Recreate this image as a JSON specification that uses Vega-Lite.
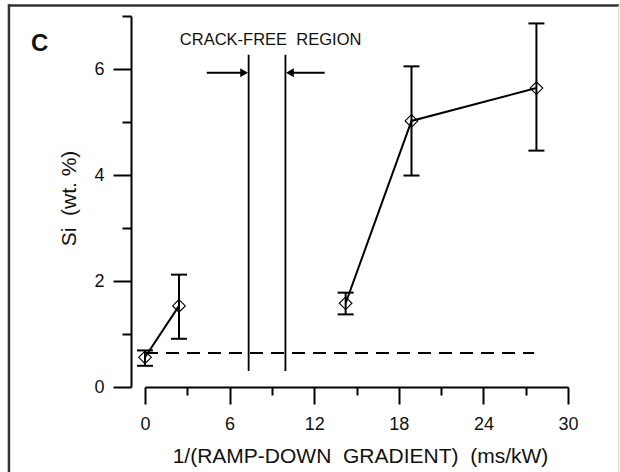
{
  "$schema": "https://vega.github.io/schema/vega-lite/v6.json",
  "width": 423,
  "height": 371,
  "autosize": {"type": "none"},
  "padding": {"left": 145, "top": 16, "right": 52, "bottom": 85},
  "background": "white",
  "config": {
    "view": {"stroke": null},
    "font": "Liberation Sans",
    "axis": {"grid": false, "domainColor": "#000", "tickColor": "#000", "labelColor": "#111", "titleColor": "#111", "domainWidth": 2, "tickWidth": 2, "labelFont": "Liberation Sans", "titleFont": "Liberation Sans", "titleFontWeight": "normal", "labelFlush": false, "labelOverlap": false}
  },
  "datasets": {
    "frameH": [{"x": -9.7, "x2": 33.63, "y": 7.2}],
    "frameL": [{"x": -9.65, "y": 7.22, "y2": -2}],
    "frameR": [{"x": 33.6, "y": 7.2, "y2": -2}],
    "dash": [{"x": 0, "x2": 27.6, "y": 0.64}],
    "vlines": [{"x": 7.35, "y": 0.3, "y2": 6.27}, {"x": 9.96, "y": 0.3, "y2": 6.27}],
    "arrows": [{"x": 4.38, "x2": 7.1, "y": 5.93}, {"x": 12.74, "x2": 10.2, "y": 5.93}],
    "heads": [{"x": 7.03, "y": 5.93, "shape": "triangle-right"}, {"x": 10.28, "y": 5.93, "shape": "triangle-left"}],
    "eb": [
      {"x": 0, "y": 0.40, "y2": 0.69},
      {"x": 2.41, "y": 0.91, "y2": 2.12},
      {"x": 14.23, "y": 1.37, "y2": 1.78},
      {"x": 18.9, "y": 3.99, "y2": 6.05},
      {"x": 27.76, "y": 4.46, "y2": 6.86}
    ],
    "caps": [
      {"x": 0, "y": 0.40}, {"x": 0, "y": 0.69},
      {"x": 2.41, "y": 0.91}, {"x": 2.41, "y": 2.12},
      {"x": 14.23, "y": 1.37}, {"x": 14.23, "y": 1.78},
      {"x": 18.9, "y": 3.99}, {"x": 18.9, "y": 6.05},
      {"x": 27.76, "y": 4.46}, {"x": 27.76, "y": 6.86}
    ],
    "pts": [
      {"x": 0, "y": 0.56, "seg": "a"},
      {"x": 2.41, "y": 1.53, "seg": "a"},
      {"x": 14.23, "y": 1.58, "seg": "b"},
      {"x": 18.9, "y": 5.02, "seg": "b"},
      {"x": 27.76, "y": 5.64, "seg": "b"}
    ],
    "txt": [{"x": 8.91, "y": 6.45, "label": "CRACK-FREE\u00a0 REGION"}],
    "panel": [{"x": -7.47, "y": 6.34, "label": "C"}]
  },
  "encoding": {
    "x": {
      "field": "x", "type": "quantitative",
      "scale": {"domain": [0, 30], "nice": false, "zero": false},
      "axis": {
        "values": [0, 3, 6, 9, 12, 15, 18, 21, 24, 27, 30],
        "labelExpr": "datum.value % 6 === 0 ? datum.label : ''",
        "tickSize": {"condition": {"test": "datum.value % 6 === 0", "value": 17}, "value": 8},
        "labelFontSize": 18,
        "labelPadding": 11,
        "title": "1/(RAMP-DOWN\u00a0 GRADIENT)\u00a0 (ms/kW)",
        "titleFontSize": 21,
        "titleBaseline": "alphabetic",
        "titleX": 215,
        "titleY": 75
      }
    },
    "y": {
      "field": "y", "type": "quantitative",
      "scale": {"domain": [0, 7], "nice": false, "zero": false},
      "axis": {
        "values": [0, 1, 2, 3, 4, 5, 6, 7],
        "labelExpr": "datum.value % 2 === 0 ? datum.label : ''",
        "tickSize": {"condition": {"test": "datum.value % 2 === 0", "value": 18}, "value": 9},
        "offset": 14,
        "labelFontSize": 18,
        "labelPadding": 9,
        "title": "Si\u00a0 (wt. %)",
        "titleFontSize": 21,
        "titleBaseline": "alphabetic",
        "titleX": -56,
        "titleY": 182
      }
    }
  },
  "layer": [
    {"data": {"name": "frameH"}, "mark": {"type": "rule", "color": "#333", "strokeWidth": 2.5},
     "encoding": {"x2": {"field": "x2"}}},
    {"data": {"name": "frameL"}, "mark": {"type": "rule", "color": "#333", "strokeWidth": 2.5},
     "encoding": {"y2": {"field": "y2"}}},
    {"data": {"name": "frameR"}, "mark": {"type": "rule", "color": "#d8d8d8", "strokeWidth": 1},
     "encoding": {"y2": {"field": "y2"}}},
    {"data": {"name": "dash"}, "mark": {"type": "rule", "color": "#000", "strokeWidth": 2, "strokeDash": [13, 8]},
     "encoding": {"x2": {"field": "x2"}}},
    {"data": {"name": "vlines"}, "mark": {"type": "rule", "color": "#000", "strokeWidth": 1.8},
     "encoding": {"y2": {"field": "y2"}}},
    {"data": {"name": "arrows"}, "mark": {"type": "rule", "color": "#000", "strokeWidth": 2},
     "encoding": {"x2": {"field": "x2"}}},
    {"data": {"name": "heads"}, "mark": {"type": "point", "filled": true, "color": "#000", "size": 80, "opacity": 1},
     "encoding": {"shape": {"field": "shape", "type": "nominal", "scale": null}}},
    {"data": {"name": "eb"}, "mark": {"type": "rule", "color": "#000", "strokeWidth": 2},
     "encoding": {"y2": {"field": "y2"}}},
    {"data": {"name": "caps"}, "mark": {"type": "tick", "orient": "horizontal", "color": "#000", "size": 16, "thickness": 2, "opacity": 1}},
    {"data": {"name": "pts"}, "mark": {"type": "line", "color": "#000", "strokeWidth": 2},
     "encoding": {"detail": {"field": "seg", "type": "nominal"}}},
    {"data": {"name": "pts"}, "mark": {"type": "point", "shape": "diamond", "filled": false, "color": "#000", "size": 160, "strokeWidth": 1.1, "opacity": 1}},
    {"data": {"name": "txt"}, "mark": {"type": "text", "fontSize": 16.5, "font": "Liberation Sans", "color": "#111", "align": "center", "baseline": "alphabetic"},
     "encoding": {"text": {"field": "label"}}},
    {"data": {"name": "panel"}, "mark": {"type": "text", "fontSize": 24, "fontWeight": "bold", "font": "Liberation Sans", "color": "#111", "align": "center", "baseline": "alphabetic"},
     "encoding": {"text": {"field": "label"}}}
  ]
}
